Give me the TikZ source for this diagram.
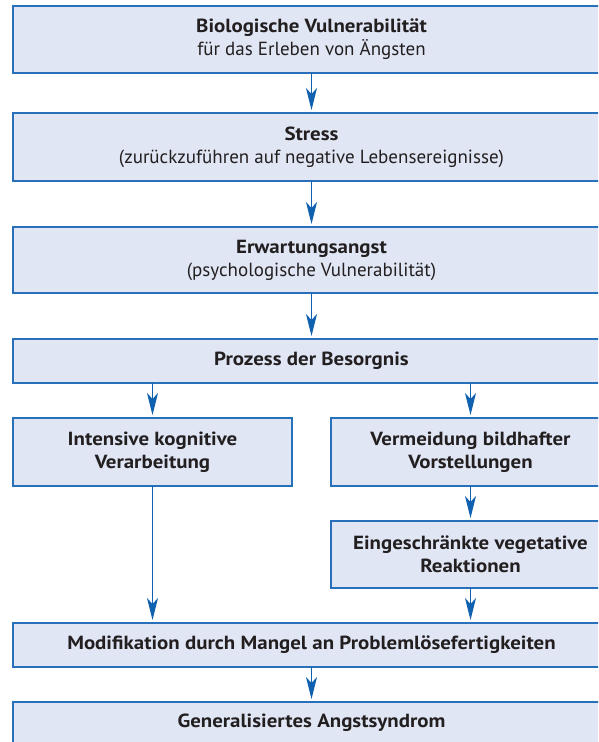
\documentclass[tikz,border=0pt]{standalone}
\usepackage{fontspec}
\setmainfont{PT Sans}[BoldFeatures={FakeStretch=1.1}]
\usetikzlibrary{arrows.meta}
\definecolor{boxfill}{RGB}{224,230,244}
\definecolor{boxline}{RGB}{40,112,186}
\definecolor{arrcol}{RGB}{16,98,176}
\definecolor{txt}{RGB}{35,31,32}
\tikzset{
  box/.style={draw=boxline, fill=boxfill, line width=1.4pt, inner sep=0pt, outer sep=0pt,
    align=center, text=txt, font=\fontsize{19}{23}\selectfont},
  arr/.style={draw=arrcol, line width=1.3pt, shorten >=3pt,
    -{Stealth[length=22pt, width=11pt, inset=6pt]}}
}
\begin{document}
\begin{tikzpicture}[x=1pt,y=-1pt]
\useasboundingbox (0,0) rectangle (598,742);
\clip (0,0) rectangle (598,742);
\node[box, minimum width=597pt, minimum height=67pt] (b1) at (311.5,39.5)
  {\textbf{Biologische Vulnerabilität}\\für das Erleben von Ängsten};
\node[box, minimum width=597pt, minimum height=68pt] (b2) at (311.5,147)
  {\textbf{Stress}\\(zurückzuführen auf negative Lebensereignisse)};
\node[box, minimum width=597pt, minimum height=66pt] (b3) at (311.5,260)
  {\textbf{Erwartungsangst}\\(psychologische Vulnerabilität)};
\node[box, minimum width=597pt, minimum height=44pt] (b4) at (311.5,361)
  {\textbf{Prozess der Besorgnis}};
\node[box, minimum width=279pt, minimum height=68pt] (il) at (152.5,452)
  {\textbf{Intensive kognitive}\\\textbf{Verarbeitung}};
\node[box, minimum width=279pt, minimum height=68pt] (vb) at (470.5,452)
  {\textbf{Vermeidung bildhafter}\\\textbf{Vorstellungen}};
\node[box, minimum width=279pt, minimum height=67pt] (eg) at (470.5,554.5)
  {\textbf{Eingeschränkte vegetative}\\\textbf{Reaktionen}};
\node[box, minimum width=597pt, minimum height=44pt] (mod) at (311.5,645)
  {\textbf{Modifikation durch Mangel an Problemlösefertigkeiten}};
\node[box, minimum width=597pt, minimum height=42pt] (gen) at (311.5,723)
  {\textbf{Generalisiertes Angstsyndrom}};
\draw[arr] (b1.south) -- (b2.north);
\draw[arr] (b2.south) -- (b3.north);
\draw[arr] (b3.south) -- (b4.north);
\draw[arr] (b4.south -| il.north) -- (il.north);
\draw[arr] (b4.south -| vb.north) -- (vb.north);
\draw[arr] (vb.south) -- (eg.north);
\draw[arr] (il.south) -- (il.south |- mod.north);
\draw[arr] (eg.south) -- (eg.south |- mod.north);
\draw[arr] (mod.south) -- (gen.north);
\end{tikzpicture}
\end{document}
